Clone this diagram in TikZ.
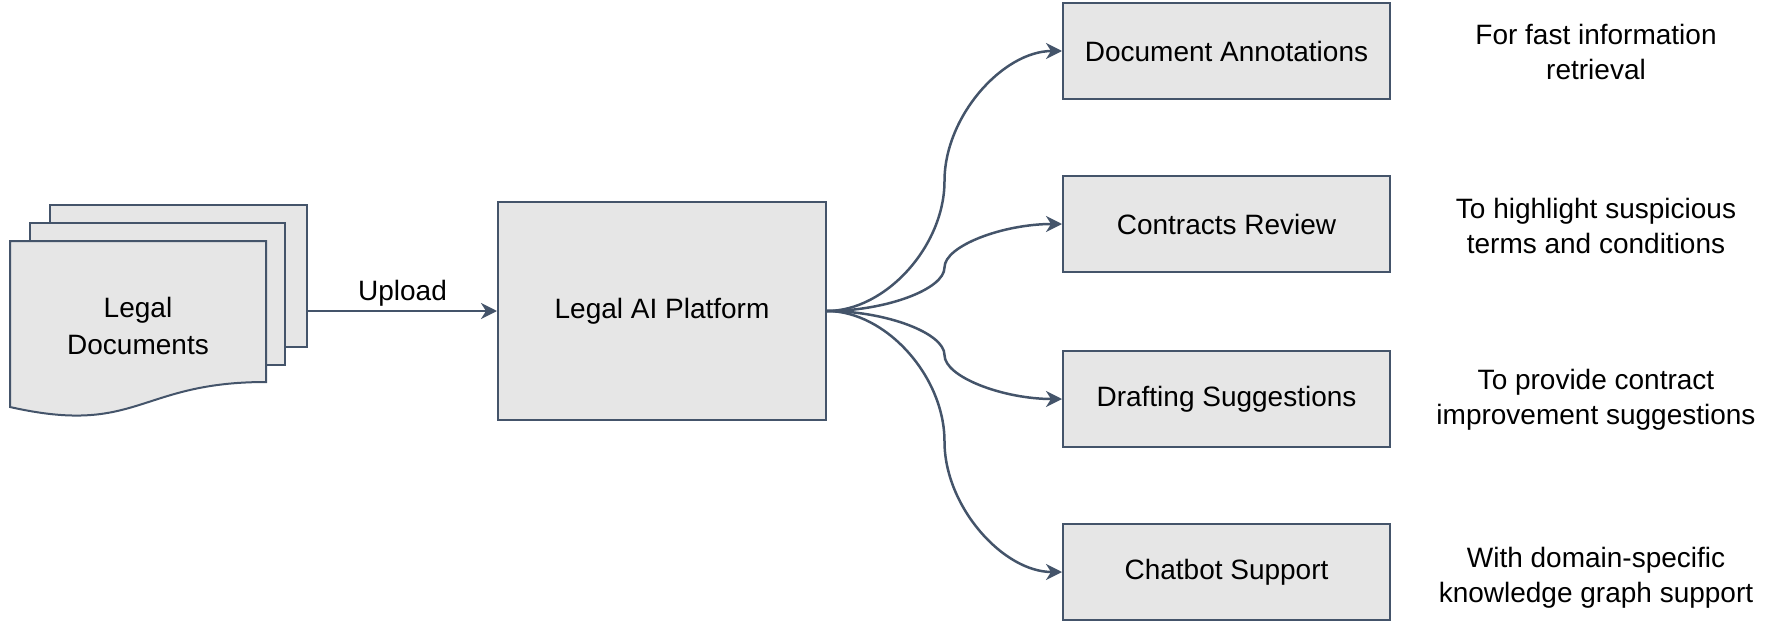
\documentclass[tikz,border=0pt]{standalone}
\usepackage{fontspec}
\setmainfont{Liberation Sans}
\usetikzlibrary{arrows.meta,calc}

\definecolor{edgeblue}{RGB}{68,84,106}
\definecolor{sheetgray}{RGB}{230,230,230}

\tikzset{every picture/.style={line width=1pt}}
\tikzset{
  box/.style={draw=edgeblue, fill=sheetgray, line width=1pt, inner sep=0pt, font=\fontsize{14}{17.5}\selectfont},
  note/.style={align=center, font=\fontsize{14}{17.5}\selectfont},
  link/.style={draw=edgeblue, line width=1.25pt, -{Stealth[length=8pt,width=8pt,inset=2.5pt]}},
  curvy/.style={to path={let \p1=(\tikztostart), \p2=(\tikztotarget) in
    .. controls ({(3*\x1+\x2)/4},\y1) and ({(\x1+\x2)/2},{(3*\y1+\y2)/4}) .. ({(\x1+\x2)/2},{(\y1+\y2)/2})
    .. controls ({(\x1+\x2)/2},{(\y1+3*\y2)/4}) and ({(\x1+3*\x2)/4},\y2) .. (\tikztotarget) \tikztonodes}}
}

\begin{document}
\begin{tikzpicture}[x=0.5pt,y=-0.5pt]
	\useasboundingbox (0,0) rectangle (1784,621);

	%Shape: Rectangle (back sheet)
	\draw (178.5,276) node [box, minimum width=128.5pt, minimum height=71pt] (sheetb) {};
	%Shape: Rectangle (middle sheet)
	\draw (157.5,294) node [box, minimum width=127.5pt, minimum height=71pt] (sheetm) {};
	%Shape: Document (front sheet)
	\draw [draw=edgeblue, fill=sheetgray] (10,241) -- (266,241) -- (266,382) .. controls (138,382) and (138,436) .. (10,407) -- cycle ;
	% Text Node
	\draw (138,326) node [note, font=\fontsize{14}{18.5}\selectfont] (docs) {Legal\\Documents};

	%Shape: Rectangle
	\draw (662,311) node [box, minimum width=164pt, minimum height=109pt] (plat) {Legal AI Platform};

	%Shape: Rectangle
	\draw (1226.5,51) node [box, minimum width=163.5pt, minimum height=48pt] (annot) {Document Annotations};
	%Shape: Rectangle
	\draw (1226.5,224) node [box, minimum width=163.5pt, minimum height=48pt] (review) {Contracts Review};
	%Shape: Rectangle
	\draw (1226.5,399) node [box, minimum width=163.5pt, minimum height=48pt] (draft) {Drafting Suggestions};
	%Shape: Rectangle
	\draw (1226.5,572) node [box, minimum width=163.5pt, minimum height=48pt] (chat) {Chatbot Support};

	%Straight Lines
	\draw [link] (plat.west -| sheetb.east) -- node [note, above, inner sep=1.5pt] (upload) {Upload} (plat.west) ;

	%Curve Lines
	\draw [link] (plat.east) to [curvy] (annot.west) ;
	%Curve Lines
	\draw [link] (plat.east) to [curvy] (review.west) ;
	%Curve Lines
	\draw [link] (plat.east) to [curvy] (draft.west) ;
	%Curve Lines
	\draw [link] (plat.east) to [curvy] (chat.west) ;

	% Text Node
	\draw (1596,52) node [note] (annotnote) {For fast information\\retrieval};
	% Text Node
	\draw (1596,226) node [note] (reviewnote) {To highlight suspicious\\terms and conditions};
	% Text Node
	\draw (1596,400) node [note] (draftnote) {To provide contract\\improvement suggestions};
	% Text Node
	\draw (1596,578) node [note] (chatnote) {With domain-specific\\knowledge graph support};

\end{tikzpicture}
\end{document}
